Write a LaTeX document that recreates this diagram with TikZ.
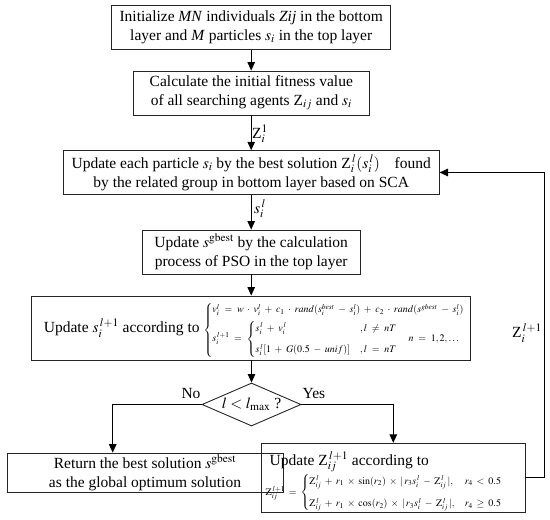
\documentclass[tikz,border=0pt]{standalone}
\usepackage{amsmath}
\usepackage{mathptmx}
\usepackage[no-math]{fontspec}
\setmainfont{Liberation Serif}
\usetikzlibrary{arrows.meta,shapes.geometric}
\newcommand\eqsz{\fontsize{10}{12}\selectfont\medmuskip=6.5mu\thickmuskip=8.5mu\relax}
\begin{document}
\begin{tikzpicture}[x=1pt,y=-1pt,
  font=\fontsize{15.5}{19}\selectfont,
  box/.style={draw=black!85, line width=0.9pt, align=center, inner sep=2pt},
  arr/.style={line width=1pt, -{Triangle[length=8.5pt,width=7.5pt]}},
  lbl/.style={inner sep=0pt}]
\useasboundingbox (0,0) rectangle (550,520);

\node[box, minimum width=279, minimum height=44.3] (b1) at (251.2,27.2)
  {Initialize \textit{MN} individuals \textit{Zij} in the bottom\\
   layer and \textit{M} particles $s_i$ in the top layer};
\node[box, minimum width=236, minimum height=44] (b2) at (251.3,93)
  {Calculate the initial fitness value\\
   of all searching agents Z$_{ij}$ and $s_i$};
\node[box, minimum width=375.7, minimum height=43.6] (b3) at (251.2,172.5)
  {Update each particle $s_i$ by the best solution Z$_i^{\,l}$$(s_i^{\,l})$\hspace{0.7em} found\\
   by the related group in bottom layer based on SCA};
\node[box, minimum width=218, minimum height=44] (b4) at (251.2,252)
  {Update $s^{\mathrm{gbest}}$ by the calculation\\ process of PSO in the top layer};
\node[box, minimum width=439, minimum height=64] (b5) at (251.2,328) {};
\node[lbl, anchor=west] (b5t) at (43.7,330)
  {Update $s_i^{\,l+1}$ according to {\eqsz$\begin{cases}
     v_i^l = w\cdot v_i^l + c_1\cdot rand(s_i^{best}-s_i^l)+c_2\cdot rand(s^{gbest}-s_i^l)\\[4pt]
     s_i^{\,l+1} = \begin{cases} s_i^{\,l}+v_i^{\,l} & ,l\neq nT\\[7pt]
        s_i^{\,l}[1+G(0.5-unif)] & ,l=nT\end{cases}\quad n=1,2,\ldots
   \end{cases}$}};
\node[diamond, draw=black!85, line width=0.9pt, aspect=2.3, inner sep=0pt,
      minimum width=99, minimum height=43] (dia) at (251.5,404.5) {$l<l_{\max}$ ?};
\node[box, minimum width=276, minimum height=36] (b6) at (145,473)
  {Return the best solution $s^{\mathrm{gbest}}$\\ as the global optimum solution};
\node[box, minimum width=263.3, minimum height=69] (b7) at (393.3,477.8) {};
\node[lbl, anchor=north west, align=left] (b7t) at (265.5,451)
  {\hspace{4pt}Update Z$_{ij}^{\,l+1}$ according to\\[1pt]
   {\eqsz\medmuskip=6mu\thickmuskip=7mu$\mathrm{Z}_{ij}^{\,l+1}=\begin{cases}
     \mathrm{Z}_{ij}^{\,l}+r_1\times\sin(r_2)\times|\,r_3s_i^{\,l}-\mathrm{Z}_{ij}^{\,l}\,|, & r_4<0.5\\[8pt]
     \mathrm{Z}_{ij}^{\,l}+r_1\times\cos(r_2)\times|\,r_3s_i^{\,l}-\mathrm{Z}_{ij}^{\,l}\,|, & r_4\geq 0.5
   \end{cases}$}};

\node[lbl] (lz1) at (260,134) {Z$_i^1$};
\node[lbl] (lsl) at (260,209) {$s_i^{\,l}$};
\node[lbl] (lzl) at (527,333) {Z$_i^{\,l+1}$};
\node[lbl] (lno) at (191,393) {No};
\node[lbl] (lyes) at (314,393) {Yes};

\coordinate (cL) at (112.7,404.5);
\coordinate (cR) at (393.3,404.5);
\coordinate (cF) at (544,477.8);

\draw[arr] (b1.south) -- (b1.south |- b2.north);
\draw[arr] (b2.south -| b1.south) -- (b1.south |- b3.north);
\draw[arr] (b3.south) -- (b4.north);
\draw[arr] (b4.south) -- (b5.north);
\draw[arr] (b5.south -| dia.north) -- (dia.north);
\draw[arr] (dia.west) -- (cL) -- (cL |- b6.north);
\draw[arr] (dia.east) -- (cR) -- (b7.north);
\draw[arr] (b7.east) -- (cF) -- (cF |- b3.east) -- (b3.east);
\end{tikzpicture}
\end{document}
